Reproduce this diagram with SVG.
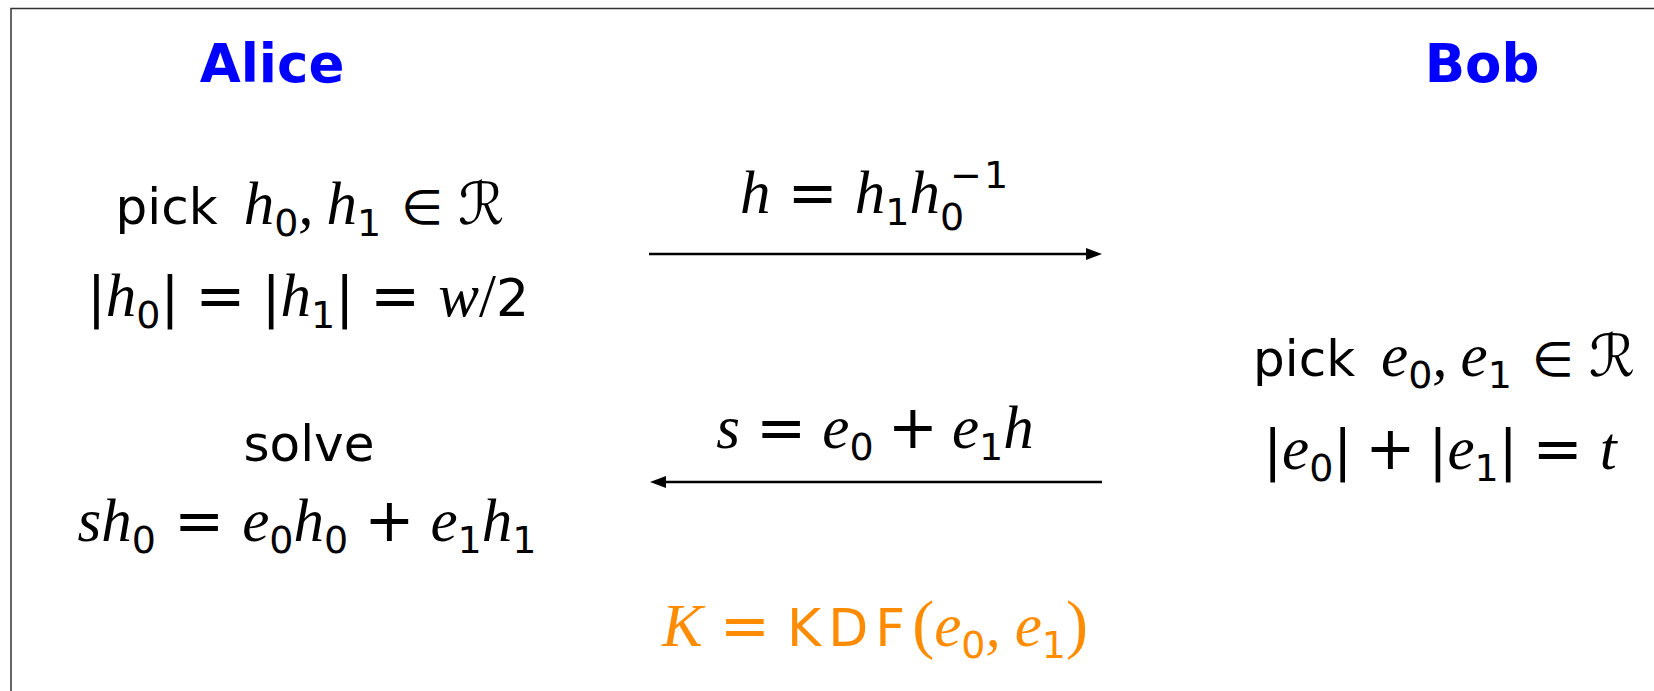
<svg xmlns="http://www.w3.org/2000/svg" width="1654" height="691" viewBox="0 0 1654 691">
<style>
.sans{font-family:"DejaVu Sans",sans-serif;font-size:50px;fill:#000}
.mi{font-family:"Liberation Serif",serif;font-style:italic;font-size:61px;fill:#000}
.sub{font-family:"DejaVu Sans",sans-serif;font-style:normal;font-size:38px}
.op{font-family:"DejaVu Sans",sans-serif;font-style:normal;font-size:60px}
.el{font-family:"DejaVu Sans",sans-serif;font-style:normal;font-size:48px}
.bar{font-family:"DejaVu Sans",sans-serif;font-style:normal;font-size:56px}
.rm{font-family:"Liberation Serif",serif;font-style:normal}
.dig{font-family:"DejaVu Sans",sans-serif;font-style:normal;font-size:52px}
.scr{font-family:"DejaVu Serif","DejaVu Sans",serif;font-style:normal;font-size:58px}
.head{font-family:"DejaVu Sans",sans-serif;font-weight:bold;font-size:53px;fill:#0000FF}
.orange,.orange tspan{fill:#FF8C00}
.conn{stroke:#000;stroke-width:2.5;fill:none}
</style>
<defs>
<marker id="ah" markerUnits="userSpaceOnUse" markerWidth="16" markerHeight="12" refX="4" refY="6" orient="auto">
<path d="M0,0 L16,6 L0,12 z" fill="#000"/>
</marker>
</defs>
<rect x="11" y="8.5" width="1700" height="720" fill="none" stroke="#333" stroke-width="1.5"/>

<g id="alice-header"><text class="head" x="272" y="82" text-anchor="middle">Alice</text></g>
<g id="bob-header"><text class="head" x="1482" y="82" text-anchor="middle">Bob</text></g>

<g id="alice-pick">
<text class="sans" x="310" y="224" text-anchor="middle">pick<tspan class="mi" dx="26">h</tspan><tspan class="sub" dy="12">0</tspan><tspan class="mi" dy="-12">,</tspan><tspan class="mi" dx="13">h</tspan><tspan class="sub" dy="12">1</tspan><tspan class="el" dy="-12" dx="20">∈</tspan><tspan class="scr" dx="15">ℛ</tspan></text>
<text class="mi" x="308" y="316" text-anchor="middle"><tspan class="bar">|</tspan>h<tspan class="sub" dy="12">0</tspan><tspan class="bar" dy="-12">|</tspan><tspan class="op" dx="16">=</tspan><tspan class="bar" dx="16">|</tspan>h<tspan class="sub" dy="12">1</tspan><tspan class="bar" dy="-12">|</tspan><tspan class="op" dx="16">=</tspan><tspan dx="18">w</tspan><tspan class="rm">/</tspan><tspan class="dig">2</tspan></text>
</g>

<g id="alice-solve">
<text class="sans" x="309" y="461" text-anchor="middle">solve</text>
<text class="mi" x="307" y="541" text-anchor="middle">sh<tspan class="sub" dy="12">0</tspan><tspan class="op" dy="-12" dx="18">=</tspan><tspan dx="18">e</tspan><tspan class="sub" dy="12">0</tspan><tspan dy="-12">h</tspan><tspan class="sub" dy="12">0</tspan><tspan class="op" dy="-12" dx="16">+</tspan><tspan dx="16">e</tspan><tspan class="sub" dy="12">1</tspan><tspan dy="-12">h</tspan><tspan class="sub" dy="12">1</tspan></text>
</g>

<g id="bob-pick">
<text class="sans" x="1444" y="376" text-anchor="middle">pick<tspan class="mi" dx="26">e</tspan><tspan class="sub" dy="12">0</tspan><tspan class="mi" dy="-12">,</tspan><tspan class="mi" dx="13">e</tspan><tspan class="sub" dy="12">1</tspan><tspan class="el" dy="-12" dx="20">∈</tspan><tspan class="scr" dx="15">ℛ</tspan></text>
<text class="mi" x="1440" y="469" text-anchor="middle"><tspan class="bar">|</tspan>e<tspan class="sub" dy="12">0</tspan><tspan class="bar" dy="-12">|</tspan><tspan class="op" dx="13">+</tspan><tspan class="bar" dx="13">|</tspan>e<tspan class="sub" dy="12">1</tspan><tspan class="bar" dy="-12">|</tspan><tspan class="op" dx="15">=</tspan><tspan dx="17">t</tspan></text>
</g>

<g id="msg-h">
<text class="mi" x="875" y="213" text-anchor="middle">h<tspan class="op" dx="17">=</tspan><tspan dx="17">h</tspan><tspan class="sub" dy="12">1</tspan><tspan dy="-12">h</tspan><tspan class="sub" dy="17">0</tspan><tspan class="sub" dx="-14" dy="-42" letter-spacing="2">−1</tspan></text>
</g>

<g id="msg-s">
<text class="mi" x="875" y="448" text-anchor="middle">s<tspan class="op" dx="16">=</tspan><tspan dx="16">e</tspan><tspan class="sub" dy="12">0</tspan><tspan class="op" dy="-12" dx="14">+</tspan><tspan dx="14">e</tspan><tspan class="sub" dy="12">1</tspan><tspan dy="-12">h</tspan></text>
</g>

<g id="key">
<text class="mi orange" x="875" y="646" text-anchor="middle">K<tspan class="op" dx="17">=</tspan><tspan class="dig" dx="17" letter-spacing="7">KDF</tspan><tspan class="rm" font-size="66">(</tspan>e<tspan class="sub" dy="12">0</tspan><tspan dy="-12">,</tspan><tspan dx="14">e</tspan><tspan class="sub" dy="12">1</tspan><tspan class="rm" font-size="66" dy="-12">)</tspan></text>
</g>

<g id="connectors">
<line class="conn" x1="649" y1="254" x2="1090" y2="254" marker-end="url(#ah)"/>
<line class="conn" x1="1102" y1="482" x2="662" y2="482" marker-end="url(#ah)"/>
</g>
</svg>
